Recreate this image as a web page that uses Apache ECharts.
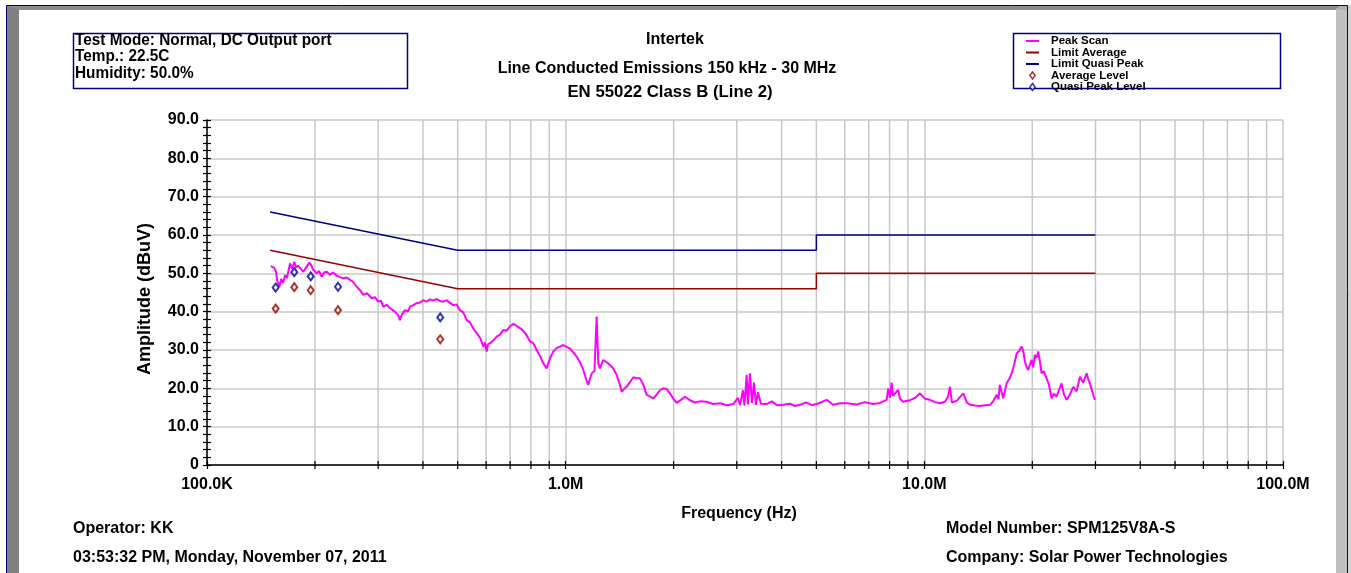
<!DOCTYPE html>
<html><head><meta charset="utf-8">
<script src="https://cdn.jsdelivr.net/npm/echarts@6/dist/echarts.min.js"></script>
<style>html,body{margin:0;padding:0;background:#fff}#c{width:1351px;height:573px}</style>
</head><body><div id="c"></div>
<script>
// ---- data (frequency in MHz, level in dBuV) ----
const peakScan = [
[0.1505,51.9],[0.1537,51.5],[0.1557,50.5],[0.157,48],[0.1591,46.5],[0.1609,48.5],[0.163,47.5],[0.1651,49.5],[0.1671,48.8],[0.1704,52.6],
[0.1726,51.2],[0.1752,53],[0.1771,51.5],[0.1794,52],[0.1816,51.4],[0.1855,50.4],[0.1888,51.5],[0.1929,52.8],[0.195,52.2],[0.1975,51],
[0.2022,50],[0.2052,50.6],[0.2088,49.1],[0.212,50.2],[0.2157,50.4],[0.2203,49.6],[0.2246,50.2],[0.23,49.4],[0.2349,49],[0.2399,48.7],
[0.2452,48.9],[0.2505,48.3],[0.2553,47.8],[0.2615,46.5],[0.267,45.6],[0.2728,44.4],[0.2793,44.8],[0.2879,43.5],[0.294,43.8],[0.3003,42.6],
[0.3055,42.9],[0.3101,41.3],[0.317,41.8],[0.3237,40.9],[0.3321,40.2],[0.3414,39.1],[0.3451,37.8],[0.3496,39.3],[0.3565,40.4],[0.3634,40],
[0.3681,41.3],[0.376,41.7],[0.3842,42.2],[0.3925,42.4],[0.4009,43],[0.4098,42.6],[0.4185,43.2],[0.4275,42.9],[0.4369,43.3],[0.4463,42.8],
[0.4558,42.6],[0.4659,43],[0.4759,42.3],[0.4861,41.7],[0.4967,41.9],[0.5074,40.4],[0.5183,39.8],[0.5297,37.8],[0.5411,37.2],[0.5527,35.6],
[0.5649,34.4],[0.577,33.2],[0.5894,30.9],[0.5957,32],[0.6023,29.6],[0.6073,31.5],[0.6152,31.8],[0.6284,32.5],[0.6423,33.5],[0.656,34],
[0.6699,35.2],[0.6847,35],[0.6994,36.2],[0.7144,36.8],[0.7302,36.3],[0.7458,35.7],[0.7618,35],[0.7786,33.8],[0.7953,32.2],[0.8124,31.8],
[0.8303,30],[0.8481,28.4],[0.8663,26.5],[0.8851,25.2],[0.9042,27.8],[0.9236,29.6],[0.9439,30.5],[0.9641,30.9],[0.9847,31.3],[1.006,30.8],
[1.028,30.4],[1.05,29.4],[1.073,28.3],[1.096,26.8],[1.12,24.8],[1.139,22.5],[1.156,20.9],[1.169,22.5],[1.184,24],[1.203,24.5],
[1.22,38.7],[1.233,26.5],[1.246,25.2],[1.273,27.4],[1.301,26.8],[1.329,26.1],[1.357,25.2],[1.388,23.5],[1.417,20.8],[1.433,19.1],
[1.454,19.8],[1.479,20.4],[1.511,21.6],[1.544,22.9],[1.578,22.6],[1.611,22.6],[1.646,21],[1.682,18.3],[1.718,17.9],[1.755,17.4],
[1.794,18.4],[1.832,19.5],[1.872,20],[1.913,19.8],[1.954,18.7],[1.995,17.3],[2.039,16.2],[2.083,16.8],[2.151,17.8],[2.221,16.9],
[2.294,16.3],[2.368,16.6],[2.472,16.5],[2.574,15.9],[2.693,16.1],[2.817,15.6],[2.934,15.9],[3.023,17.5],[3.062,15.6],[3.121,19.5],
[3.151,15.5],[3.196,23.5],[3.222,15.8],[3.264,23.9],[3.306,16.2],[3.35,21.5],[3.392,15.7],[3.436,19],[3.503,16],[3.634,15.9],
[3.759,16.6],[3.882,15.6],[4.042,15.7],[4.22,16],[4.358,15.4],[4.5,15.7],[4.677,16.3],[4.86,15.6],[5.083,16.1],[5.342,17],
[5.563,15.7],[5.818,16.1],[6.074,16.1],[6.475,15.8],[6.83,16.4],[7.202,15.9],[7.519,16.2],[7.851,17],[7.932,20],[8.018,17.5],
[8.105,21.5],[8.174,18],[8.279,17.8],[8.455,19.6],[8.551,17.3],[8.735,16.5],[9.119,16.9],[9.415,17.5],[9.722,18.7],[10.04,17.3],
[10.37,17],[10.71,16.4],[11.05,16.1],[11.41,16.5],[11.64,17.8],[11.79,20.4],[11.94,16.3],[12.33,16.8],[12.84,18.7],[13.15,16.3],
[13.4,15.7],[13.84,15.5],[14.29,15.4],[14.75,15.6],[15.24,15.7],[15.53,16.5],[15.91,18.3],[16.09,17.2],[16.24,20.9],[16.59,17.4],
[16.96,21.3],[17.21,22.3],[17.52,23.9],[17.78,26],[18.09,29.1],[18.36,29.7],[18.67,30.9],[18.87,29.8],[19.07,27],[19.28,25.5],
[19.48,24.8],[19.69,26.2],[19.91,27.4],[20.11,25.5],[20.33,28.7],[20.56,28],[20.77,29.6],[21.0,27],[21.23,23.9],[21.54,24.5],
[21.92,22.6],[22.25,21],[22.63,17.4],[22.97,18.6],[23.37,17.8],[23.72,19.5],[24.13,21.3],[24.49,18.5],[24.92,17],[25.46,18.4],
[26.0,20.4],[26.58,19.2],[27.15,23],[27.73,21.5],[28.35,23.9],[28.68,22.2],[28.95,21.3],[29.42,19],[29.9,17]
];
const limitAverage   = [[0.15,56],[0.5,46],[5,46],[5,50],[30,50]];
const limitQuasiPeak = [[0.15,66],[0.5,56],[5,56],[5,60],[30,60]];
const averageLevel   = [[0.1554,40.8],[0.1751,46.4],[0.1946,45.6],[0.2319,40.4],[0.447,32.8]];
const quasiPeakLevel = [[0.1554,46.3],[0.1751,50.3],[0.1946,49.2],[0.2319,46.5],[0.447,38.5]];
const minorGridMHz = [0.2,0.3,0.4,0.5,0.6,0.7,0.8,0.9,2,3,4,5,6,7,8,9,20,30,40,50,60,70,80,90];
const xTickLabels = ['100.0K','1.0M','10.0M','100.0M'];
const yTickLabels = ['0','10.0','20.0','30.0','40.0','50.0','60.0','70.0','80.0','90.0'];
const seriesNames = ['Peak Scan','Limit Average','Limit Quasi Peak','Average Level','Quasi Peak Level'];
const seriesColors = ['#ff00ff','#990000','#000080','#990000','#000099'];
const titleLines = ['Intertek','Line Conducted Emissions 150 kHz - 30 MHz','EN 55022 Class B (Line 2)'];
const infoLines = ['Test Mode: Normal, DC Output port','Temp.: 22.5C','Humidity: 50.0%'];
const footerLeft = ['Operator: KK','03:53:32 PM, Monday, November 07, 2011'];
const footerRight = ['Model Number: SPM125V8A-S','Company: Solar Power Technologies'];

const FONT = "'Liberation Sans', Arial, sans-serif";
const chart = echarts.init(document.getElementById('c'), null, {renderer:'canvas'});
const pts = arr => arr.map(p => [p[0], p[1]]);

const g = [];
// outer frame
g.push({type:'rect', shape:{x:6.5,y:5.5,width:1341,height:580}, style:{fill:'#fff', stroke:'#000080', lineWidth:1}, z:-10});
g.push({type:'rect', shape:{x:7,y:6,width:12,height:570}, style:{fill:'#808080'}, z:-9});
g.push({type:'polygon', shape:{points:[[7,6],[1340,6],[1336,10],[19,10]]}, style:{fill:'#8c8c8c'}, z:-9});
g.push({type:'rect', shape:{x:1336,y:10,width:11,height:570}, style:{fill:'#c0c0c0'}, z:-9});
g.push({type:'polygon', shape:{points:[[1336,10],[1340,6],[1347,6],[1347,10]]}, style:{fill:'#b0b0b0'}, z:-9});
g.push({type:'rect', shape:{x:1348,y:5,width:3,height:570}, style:{fill:'#d4d4d4'}, z:-9});
// info box
g.push({type:'rect', shape:{x:73.5,y:33.5,width:334,height:55}, style:{fill:'none', stroke:'#000080', lineWidth:1.5}});
infoLines.forEach((t,i)=>g.push({type:'text', x:75, y:40.5+i*16.5, scaleX:0.96,
  style:{text:t, font:'bold 16px '+FONT, fill:'#000', verticalAlign:'middle', align:'left'}}));
// legend box
g.push({type:'rect', shape:{x:1013.5,y:33.5,width:267,height:55}, style:{fill:'none', stroke:'#000080', lineWidth:1.5}});
// titles
const titleX = [675, 667, 670], titleY = [40, 69, 92], titleSize = [16, 16, 16.8];
titleLines.forEach((t,i)=>g.push({type:'text', x:titleX[i], y:titleY[i], style:{text:t, font:'bold '+titleSize[i]+'px '+FONT, fill:'#000', align:'center', verticalAlign:'middle'}}));
// footers
footerLeft.forEach((t,i)=>g.push({type:'text', x:73, y:529+i*29, style:{text:t, font:'bold 16px '+FONT, fill:'#000', verticalAlign:'middle'}}));
footerRight.forEach((t,i)=>g.push({type:'text', x:946, y:529+i*29, style:{text:t, font:'bold 16px '+FONT, fill:'#000', verticalAlign:'middle'}}));

const xBase = {type:'log', logBase:10, min:0.1, max:100, gridIndex:0};
const yBase = {type:'value', min:0, max:90, interval:10};
const diamondPath = 'path://M3,0L6,4L3,8L0,4Z';

chart.setOption({
  animation:false,
  backgroundColor:'#fff',
  textStyle:{fontFamily:FONT},
  grid:{left:207, right:68, top:120, bottom:108, containLabel:false},
  graphic:g,
  legend:{
    orient:'vertical', left:1025, top:35, padding:0, itemGap:-0.5, itemWidth:13, itemHeight:7,
    data:[
      {name:seriesNames[0], itemStyle:{opacity:0}},
      {name:seriesNames[1], itemStyle:{opacity:0}},
      {name:seriesNames[2], itemStyle:{opacity:0}},
      {name:seriesNames[3], icon:diamondPath, itemStyle:{color:'#fff', borderColor:seriesColors[3], borderWidth:1.5}},
      {name:seriesNames[4], icon:diamondPath, itemStyle:{color:'#fff', borderColor:seriesColors[4], borderWidth:1.5}}
    ],
    textStyle:{fontSize:11.5, fontWeight:'bold', color:'#000', fontFamily:FONT, lineHeight:11.5, padding:[0,0,0,7]}
  },
  xAxis:[
    Object.assign({}, xBase, {
      name:'Frequency (Hz)', nameLocation:'middle', nameGap:41,
      nameTextStyle:{fontSize:16, fontWeight:'bold', color:'#000', fontFamily:FONT, padding:[0,12,0,0]},
      axisLine:{show:true, onZero:false, lineStyle:{color:'#000', width:1.5}},
      axisTick:{show:true, length:4, lineStyle:{color:'#000', width:1.2}},
      axisLabel:{margin:12, fontSize:16, fontWeight:'bold', color:'#000', fontFamily:FONT,
        formatter:v=>xTickLabels[Math.round(Math.log10(v))+1]},
      splitLine:{show:true, lineStyle:{color:'#c8c8c8', width:1.5}}
    }),
    Object.assign({}, xBase, {
      position:'bottom',
      axisLine:{show:false}, axisLabel:{show:false}, splitLine:{show:false},
      axisTick:{show:true, inside:true, length:4, lineStyle:{color:'#000', width:1.2}}
    })
  ],
  yAxis:[
    Object.assign({}, yBase, {
      name:'Amplitude (dBuV)', nameLocation:'middle', nameGap:53,
      nameTextStyle:{fontSize:18, fontWeight:'bold', color:'#000', fontFamily:FONT, padding:[0,13,0,0]},
      axisLine:{show:true, onZero:false, lineStyle:{color:'#000', width:1.5}},
      axisTick:{show:true, length:4, lineStyle:{color:'#000', width:1.2}},
      minorTick:{show:true, splitNumber:5, length:4, lineStyle:{color:'#000', width:1.2}},
      axisLabel:{margin:8, fontSize:16, fontWeight:'bold', color:'#000', fontFamily:FONT,
        formatter:v=>yTickLabels[Math.round(v/10)]},
      splitLine:{show:true, lineStyle:{color:'#c8c8c8', width:1.5}}
    }),
    Object.assign({}, yBase, {
      position:'left',
      axisLine:{show:false}, axisLabel:{show:false}, splitLine:{show:false},
      axisTick:{show:true, inside:true, length:4, lineStyle:{color:'#000', width:1.2}},
      minorTick:{show:true, splitNumber:5, length:4, lineStyle:{color:'#000', width:1.2}}
    })
  ],
  series:[
    {type:'custom', name:'minorGrid', silent:true, z:0, xAxisIndex:0, yAxisIndex:0,
      data:minorGridMHz.map(f=>[f,0]),
      renderItem:(params, api)=>{
        const top = api.coord([api.value(0), 90]);
        const bot = api.coord([api.value(0), 0]);
        return {type:'group', children:[
          {type:'line', shape:{x1:top[0],y1:top[1],x2:bot[0],y2:bot[1]}, style:{stroke:'#c8c8c8', lineWidth:1.5}},
          {type:'line', shape:{x1:bot[0],y1:bot[1]-4,x2:bot[0],y2:bot[1]+4}, style:{stroke:'#000', lineWidth:1.2}}
        ]};
      }
    },
    {type:'line', name:seriesNames[0], data:pts(peakScan), symbol:'none', z:3,
      lineStyle:{color:seriesColors[0], width:2}, itemStyle:{color:seriesColors[0]}},
    {type:'line', name:seriesNames[1], data:pts(limitAverage), symbol:'none', z:2,
      lineStyle:{color:seriesColors[1], width:1.5}, itemStyle:{color:seriesColors[1]}},
    {type:'line', name:seriesNames[2], data:pts(limitQuasiPeak), symbol:'none', z:2,
      lineStyle:{color:seriesColors[2], width:1.5}, itemStyle:{color:seriesColors[2]}},
    {type:'scatter', name:seriesNames[3], data:pts(averageLevel), symbol:'emptyDiamond', symbolSize:[6,8], z:4,
      itemStyle:{color:seriesColors[3], borderWidth:1.5}},
    {type:'scatter', name:seriesNames[4], data:pts(quasiPeakLevel), symbol:'emptyDiamond', symbolSize:[6,8], z:4,
      itemStyle:{color:seriesColors[4], borderWidth:1.5}}
  ]
});
</script></body></html>
